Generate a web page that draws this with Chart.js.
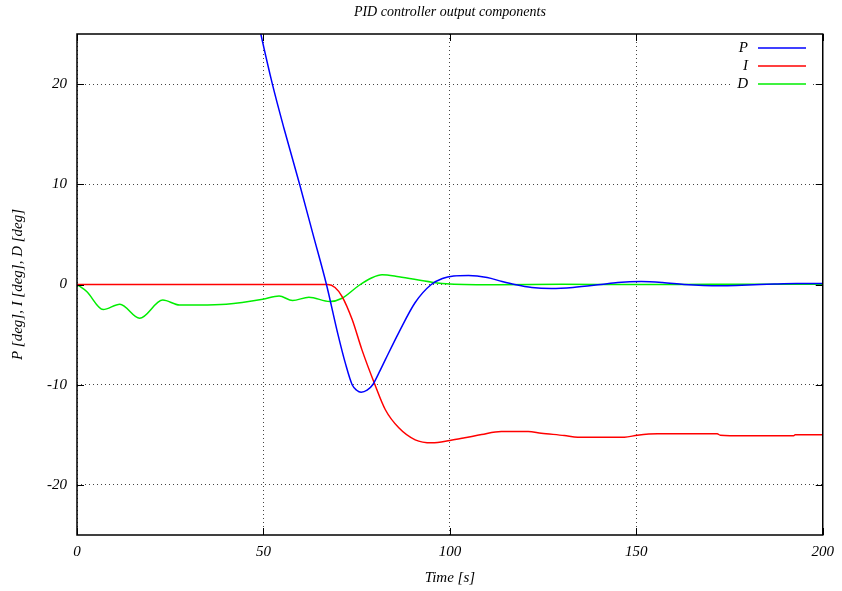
<!DOCTYPE html>
<html>
<head>
<meta charset="utf-8">
<script src="https://cdn.jsdelivr.net/npm/chart.js@4.4.0/dist/chart.umd.min.js"></script>
<style>
  html, body { margin: 0; padding: 0; background: #fff; }
  #plot { display: block; }
</style>
</head>
<body>
<canvas id="plot" width="842" height="591"></canvas>
<script>
const chartTitle = "PID controller output components";
const xTitle = "Time [s]";
const yTitle = "P [deg], I [deg], D [deg]";
const xTickValues = [0, 50, 100, 150, 200];
const yTickValues = [-20, -10, 0, 10, 20];

// P component (starts far above the top of the plot)
const pTime = [40, 45, 49.3, 52.4, 55.5, 59.7, 63.3, 66.9, 70.0, 72.0, 73.8, 75.0, 76.2, 77.8, 79.3, 81.0, 82.7, 86.3, 90.7, 95.0, 98, 101, 105, 110, 114, 117.4, 122, 127.2, 133, 140.5, 145, 151.3, 157, 162.8, 168, 173.5, 180, 187, 193, 200];
const pValues = [40.5, 32.5, 25, 20, 15.6, 10, 5, 0, -5, -7.9, -10, -10.55, -10.75, -10.55, -10, -8.8, -7.5, -4.8, -1.8, 0, 0.6, 0.85, 0.9, 0.7, 0.3, 0, -0.3, -0.4, -0.3, 0, 0.2, 0.3, 0.2, 0, -0.1, -0.12, -0.05, 0.05, 0.1, 0.1];

// I component
const iTime = [0, 67.3, 69.2, 71.1, 73.8, 76.4, 79.8, 82.7, 86.3, 90.7, 95.2, 100, 104, 108.5, 113.8, 121, 124.5, 130.7, 134.3, 146.8, 150.3, 155.7, 171.7, 172.5, 178.8, 192.2, 192.6, 200];
const iValues = [0, 0, -0.3, -1.2, -3.5, -6.5, -9.9, -12.5, -14.3, -15.5, -15.8, -15.57, -15.3, -14.97, -14.67, -14.67, -14.84, -15.07, -15.24, -15.24, -15.04, -14.9, -14.9, -15.04, -15.1, -15.1, -15.0, -15.0];

// D component
const dTime = [0, 2.6, 7.0, 11.5, 16.8, 23.0, 27.5, 32.8, 40, 49.8, 54.2, 57.8, 62.2, 67.8, 71.1, 75.6, 79.1, 81.8, 86.3, 95.2, 100, 113, 130, 150, 170, 200];
const dValues = [0, -0.7, -2.5, -1.97, -3.37, -1.55, -2.05, -2.05, -1.97, -1.47, -1.14, -1.6, -1.27, -1.7, -1.37, -0.1, 0.67, 0.97, 0.77, 0.23, 0.05, -0.03, 0.02, 0.0, 0.02, 0.03];

const toPoints = (xs, ys) => xs.map((x, i) => ({ x: x, y: ys[i] }));

const serif = "'Liberation Serif', 'DejaVu Serif', serif";

const framePlugin = {
  id: "frame",
  afterDraw(chart) {
    const c = chart.ctx;
    const a = chart.chartArea;
    const xs = chart.scales.x;
    const ys = chart.scales.y;
    c.save();
    c.strokeStyle = "#000";
    c.lineWidth = 1.5;
    c.strokeRect(a.left, a.top, a.right - a.left, a.bottom - a.top);

    // inward tick marks on all four sides
    c.lineWidth = 1;
    c.beginPath();
    xTickValues.forEach((v) => {
      const px = Math.round(xs.getPixelForValue(v)) + 0.5;
      c.moveTo(px, a.bottom); c.lineTo(px, a.bottom - 7);
      c.moveTo(px, a.top); c.lineTo(px, a.top + 7);
    });
    yTickValues.forEach((v) => {
      const py = Math.round(ys.getPixelForValue(v)) + 0.5;
      c.moveTo(a.left, py); c.lineTo(a.left + 7, py);
      c.moveTo(a.right, py); c.lineTo(a.right - 7, py);
    });
    c.stroke();

    // legend, gnuplot style: label then sample line
    c.fillStyle = "#fff";
    c.fillRect(733, 39, 80, 54);
    c.font = "italic 15px " + serif;
    c.textAlign = "right";
    c.textBaseline = "middle";
    chart.data.datasets.forEach((ds, i) => {
      const y = 48 + i * 18;
      c.fillStyle = "#000";
      c.fillText(ds.label, 748, y);
      c.strokeStyle = ds.borderColor;
      c.lineWidth = 1.5;
      c.beginPath();
      c.moveTo(758, y);
      c.lineTo(806, y);
      c.stroke();
    });

    // title
    c.fillStyle = "#000";
    c.font = "italic 14px " + serif;
    c.textAlign = "center";
    c.fillText(chartTitle, (a.left + a.right) / 2, 12);
    c.restore();
  },
};

new Chart(document.getElementById("plot"), {
  type: "line",
  data: {
    datasets: [
      { label: "P", data: toPoints(pTime, pValues), borderColor: "#0000ff" },
      { label: "I", data: toPoints(iTime, iValues), borderColor: "#ff0000" },
      { label: "D", data: toPoints(dTime, dValues), borderColor: "#00ee00" },
    ],
  },
  options: {
    responsive: false,
    animation: false,
    layout: { padding: { top: 34, right: 16, left: 0, bottom: 0 } },
    elements: {
      point: { radius: 0 },
      line: { borderWidth: 1.5, cubicInterpolationMode: "monotone", fill: false },
    },
    plugins: {
      legend: { display: false },
      title: { display: false },
      tooltip: { enabled: false },
    },
    scales: {
      x: {
        type: "linear",
        min: 0,
        max: 200,
        afterBuildTicks: (s) => { s.ticks = xTickValues.map((v) => ({ value: v })); },
        afterFit: (s) => { s.height = 56; },
        grid: { color: "#444", drawTicks: false },
        border: { display: false, dash: [1, 3] },
        ticks: { color: "#000", padding: 8, maxRotation: 0, font: { family: serif, style: "italic", size: 15 } },
        title: { display: true, text: xTitle, color: "#000", padding: { top: 0, bottom: 4 }, font: { family: serif, style: "italic", size: 15 } },
      },
      y: {
        min: -25,
        max: 25,
        afterBuildTicks: (s) => { s.ticks = yTickValues.map((v) => ({ value: v })); },
        afterFit: (s) => { s.width = 77; },
        grid: { color: "#444", drawTicks: false },
        border: { display: false, dash: [1, 3] },
        ticks: { color: "#000", padding: 10, font: { family: serif, style: "italic", size: 15 } },
        title: { display: true, text: yTitle, color: "#000", padding: { top: 9, bottom: 0 }, font: { family: serif, style: "italic", size: 15 } },
      },
    },
  },
  plugins: [framePlugin],
});
</script>
</body>
</html>
